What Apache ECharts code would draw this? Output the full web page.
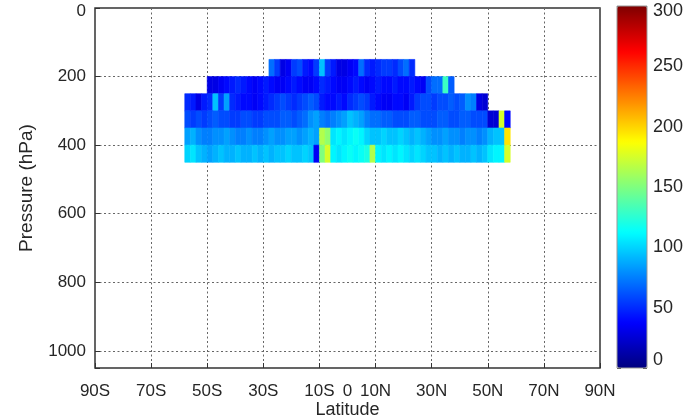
<!DOCTYPE html>
<html><head><meta charset="utf-8">
<script src="https://cdn.jsdelivr.net/npm/echarts@6/dist/echarts.min.js"></script>
<style>html,body{margin:0;padding:0;background:#fff}#c{width:689px;height:417px}</style>
</head><body><div id="c"></div>
<script>
// latitude bin width (degrees) and pressure bands (hPa)
const latStep = 2;
const rowTop = [150, 200, 250, 300, 350, 400];
const rowBottom = [200, 250, 300, 350, 400, 450];
const rowStartLat = [-28, -50, -58, -58, -58, -58];

// values per band, south to north, one per 2-degree bin
const p175 = [70,55,30,35,55,60,45,40,55,95,55,45,30,30,35,40,70,50,45,50,55,55,50,60,70,50];
const p225 = [30,30,35,40,45,50,45,40,35,40,45,40,35,35,40,45,40,35,35,40,50,45,40,35,35,40,45,40,35,40,45,40,40,45,40,40,45,40,35,60,70,70,130,65];
const p275 = [50,45,30,45,50,95,55,85,50,45,40,40,35,40,45,50,55,60,55,50,55,60,65,60,45,40,40,45,40,50,55,60,55,45,40,35,35,40,40,35,45,55,60,60,55,60,60,65,60,65,80,75,30,25];
const p325 = [60,55,60,55,60,65,60,60,55,55,60,60,55,55,60,60,60,65,65,60,65,70,80,85,75,70,75,80,85,95,90,85,75,70,70,65,65,60,60,60,65,65,60,60,60,65,65,60,60,65,65,60,60,60,25,25,175,40];
const p375 = [85,90,80,75,75,80,80,85,80,75,75,80,75,75,80,85,80,80,85,85,80,85,90,85,165,155,105,110,105,110,115,110,100,95,95,100,95,95,100,95,90,95,90,85,80,80,85,80,80,75,80,80,75,80,90,95,95,195];
const p425 = [100,105,95,90,85,90,95,90,90,95,90,90,95,90,95,90,95,95,100,95,95,100,95,35,150,175,110,105,110,115,110,115,120,165,110,105,110,105,110,105,100,105,100,95,95,90,95,90,95,90,90,95,90,95,105,110,110,175];
const rows = [p175, p225, p275, p325, p375, p425];

// axes
const latMin = -90, latMax = 90, latInterval = 20;
const latLabels = [-90, -70, -50, -30, -10, 0, 10, 30, 50, 70, 90];
const presMin = 0, presMax = 1050, presInterval = 200;
const cbMin = 0, cbMax = 300, cbInterval = 50;
const jet = ['#00007F','#0000FF','#007FFF','#00FFFF','#7FFF7F','#FFFF00','#FF7F00','#FF0000','#7F0000'];

const cells = [];
rows.forEach(function (vals, r) {
  vals.forEach(function (v, i) {
    const a = rowStartLat[r] + i * latStep;
    cells.push([a, a + latStep, rowTop[r], rowBottom[r], v]);
  });
});

function latLabel(v) {
  if (v < 0) return (-v) + 'S';
  if (v > 0) return v + 'N';
  return '0';
}

const font = 'Liberation Sans, Arial, sans-serif';
const txt = '#262626';
const tickFont = 17, nameFont = 19, cbFont = 18;
const richBase = {fontFamily: font, fontSize: tickFont, color: txt};
const richCb = {fontFamily: font, fontSize: cbFont, color: txt};
const gridLine = {color: '#666', type: [2, 2.5], width: 1};
const noLine = {show: false, onZero: false};
const chart = echarts.init(document.getElementById('c'));
chart.setOption({
  backgroundColor: '#fff',
  animation: false,
  grid: [
    {left: 95, right: 89, top: 8, bottom: 49, show: true, borderColor: '#333', borderWidth: 1.5,
     backgroundColor: '#fff', containLabel: false, outerBoundsMode: 'none'},
    {left: 617, width: 30, top: 6, height: 362, show: true, borderColor: '#999', borderWidth: 1,
     backgroundColor: 'transparent', z: 10, containLabel: false, outerBoundsMode: 'none'}
  ],
  xAxis: [
    {type: 'value', gridIndex: 0, min: latMin, max: latMax, interval: latInterval, position: 'bottom',
     name: 'Latitude', nameLocation: 'middle', nameGap: 33, nameMoveOverlap: false,
     nameTextStyle: {fontFamily: font, fontSize: 18, color: txt},
     axisLine: noLine,
     axisTick: {show: true, inside: true, length: 5, lineStyle: {color: '#333'}},
     axisLabel: {fontFamily: font, fontSize: tickFont, color: txt, margin: 15,
       customValues: latLabels, formatter: latLabel},
     splitLine: {show: true, lineStyle: gridLine}},
    {type: 'value', gridIndex: 1, min: 0, max: 1, show: false, axisLine: noLine}
  ],
  yAxis: [
    {type: 'value', gridIndex: 0, inverse: true, min: presMin, max: presMax, interval: presInterval,
     position: 'left',
     name: 'Pressure (hPa)', nameLocation: 'middle', nameGap: 59, nameMoveOverlap: false,
     nameTextStyle: {fontFamily: font, fontSize: nameFont, color: txt},
     axisLine: noLine,
     axisTick: {show: true, inside: true, length: 5, lineStyle: {color: '#333'}},
     axisLabel: {fontFamily: font, fontSize: tickFont, color: txt, margin: 9,
       formatter: function (v) {
         if (v === presMax) return '';
         if (v === presMin) return '{t|0}';
         return String(v);
       },
       rich: {t: Object.assign({padding: [7, 0, 0, 0]}, richBase)}},
     splitLine: {show: true, lineStyle: gridLine}},
    {type: 'value', gridIndex: 1, position: 'right', min: cbMin, max: cbMax, interval: cbInterval,
     axisLine: noLine,
     axisTick: {show: true, inside: true, length: 4, lineStyle: {color: '#333'}},
     axisLabel: {fontFamily: font, fontSize: cbFont, color: txt, margin: 6,
       formatter: function (v) {
         if (v === cbMax) return '{t|' + v + '}';
         if (v === cbMin) return '{b|' + v + '}';
         return String(v);
       },
       rich: {t: Object.assign({padding: [11, 0, 0, 0]}, richCb),
              b: Object.assign({padding: [0, 0, 15, 0]}, richCb)}},
     splitLine: {show: false}},
    {type: 'value', gridIndex: 1, position: 'left', min: cbMin, max: cbMax, interval: cbInterval,
     axisLine: noLine, axisLabel: {show: false},
     axisTick: {show: true, inside: true, length: 4, lineStyle: {color: '#333'}},
     splitLine: {show: false}}
  ],
  visualMap: {
    type: 'continuous', min: cbMin, max: cbMax, dimension: 4, seriesIndex: 0,
    orient: 'vertical', left: 617, top: 6, itemWidth: 30, itemHeight: 362,
    padding: 0, calculable: false, showLabel: false, text: null, hoverLink: false,
    inRange: {color: jet}
  },
  series: [{
    type: 'custom', xAxisIndex: 0, yAxisIndex: 0, data: cells,
    encode: {x: [0, 1], y: [2, 3]},
    renderItem: function (params, api) {
      const p0 = api.coord([api.value(0), api.value(2)]);
      const p1 = api.coord([api.value(1), api.value(3)]);
      const c = api.visual('color');
      return {type: 'rect',
        shape: {x: Math.min(p0[0], p1[0]), y: Math.min(p0[1], p1[1]),
                width: Math.abs(p1[0] - p0[0]), height: Math.abs(p1[1] - p0[1])},
        style: {fill: c, stroke: c, lineWidth: 0.6}};
    }
  }]
});
</script>
</body></html>
